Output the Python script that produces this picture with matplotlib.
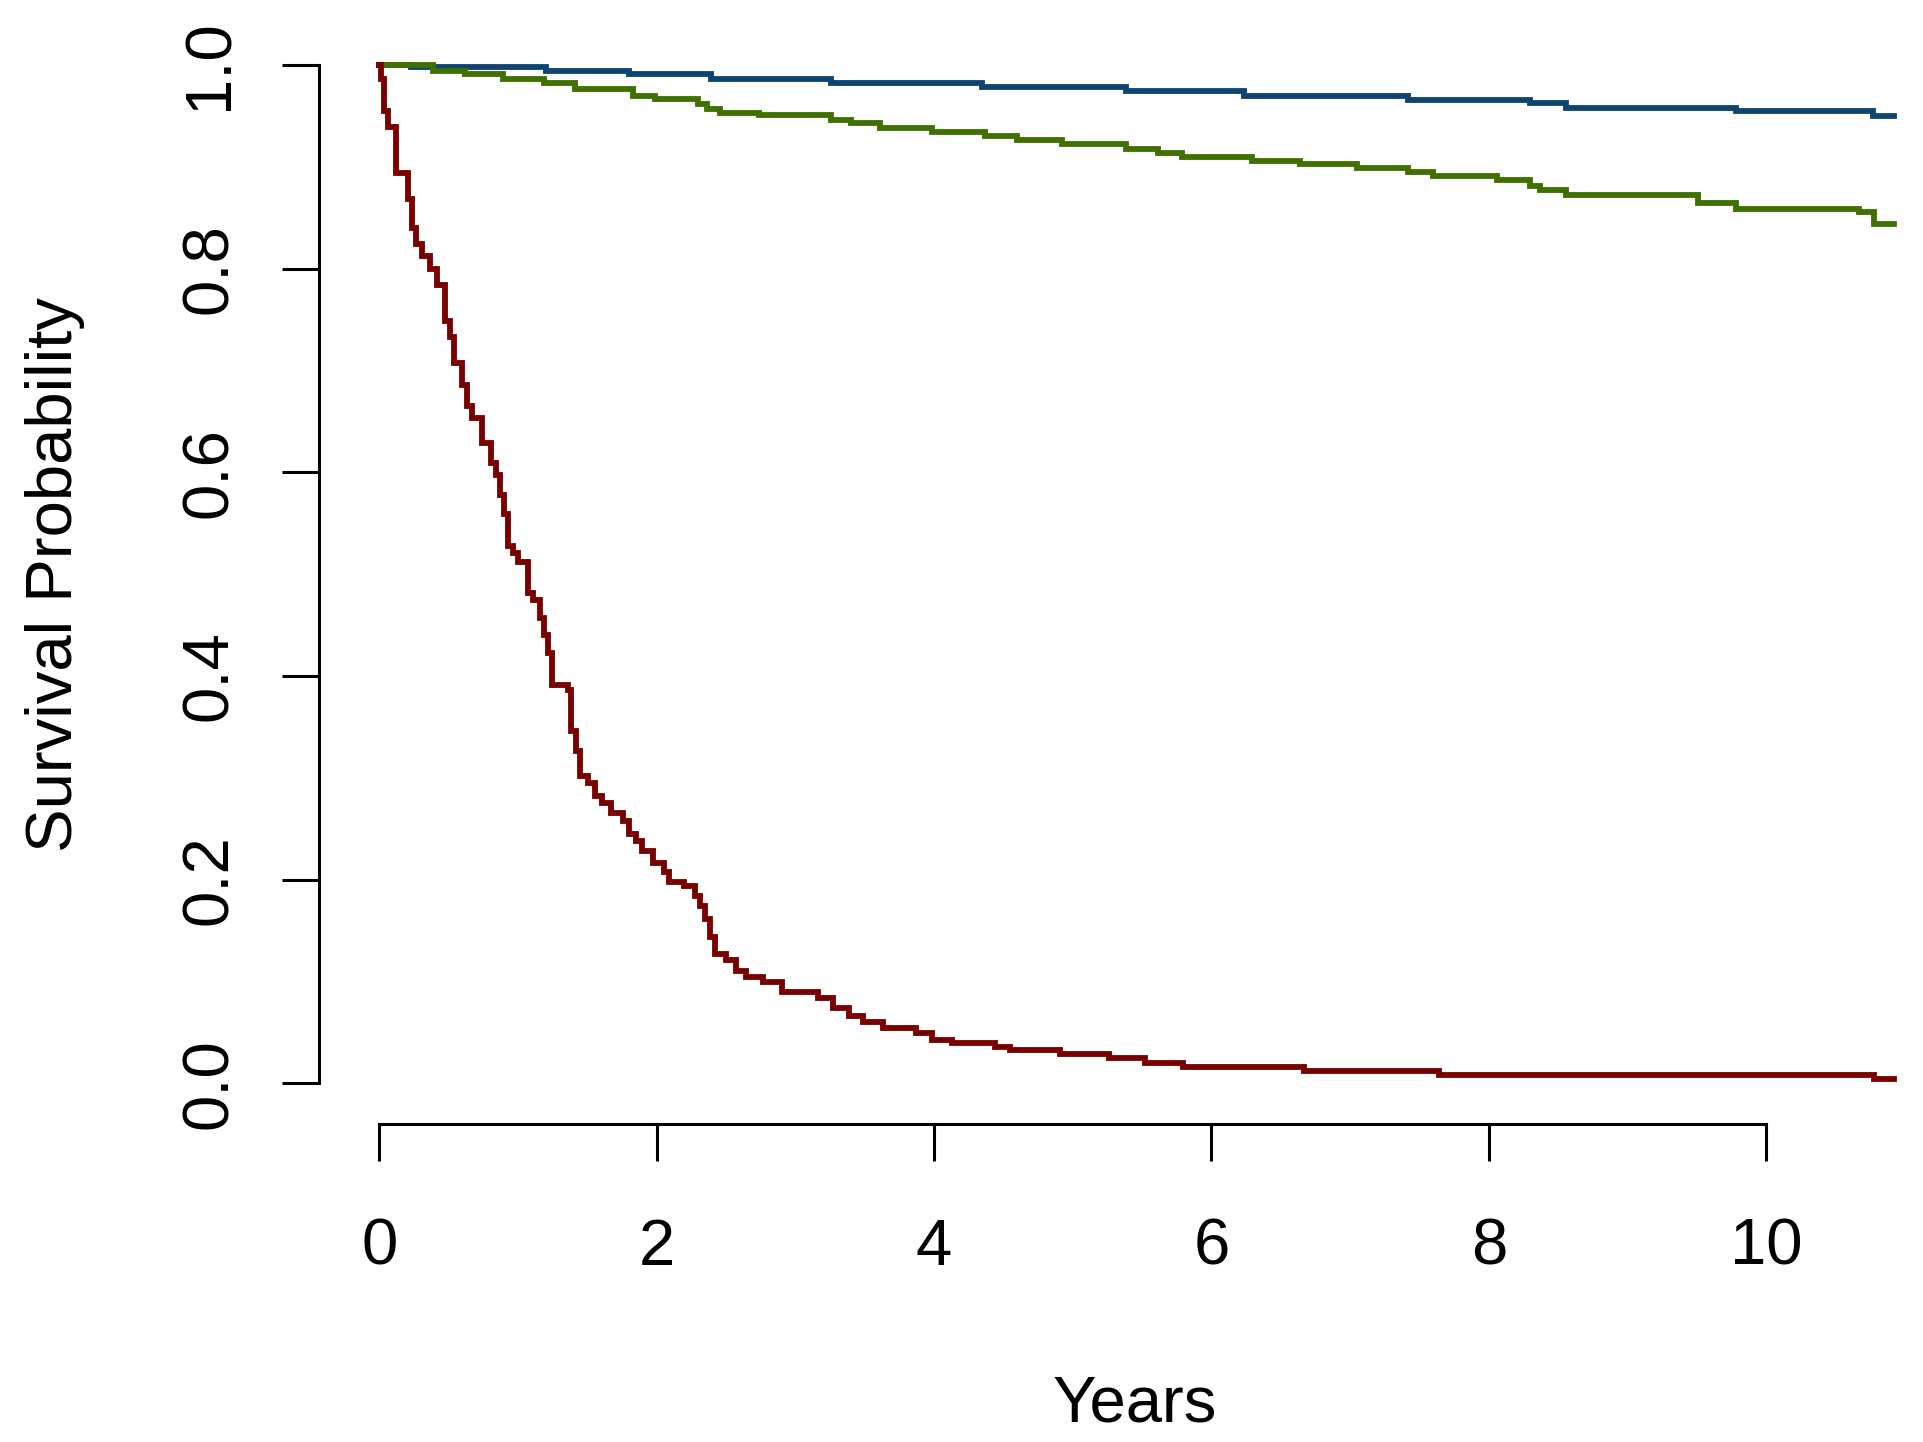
import numpy as np
import matplotlib.pyplot as plt

plt.rcParams['font.family'] = ['Liberation Sans', 'DejaVu Sans']

# survival curves (years, survival probability)
blue_t = [0, 0.23, 1.2, 1.80, 2.39, 3.256, 4.343, 5.381, 6.234, 7.417, 8.30, 8.556, 9.785, 10.77, 10.92]
blue_s = [1.0, 0.998, 0.994, 0.991, 0.986, 0.982, 0.9785, 0.9743, 0.970, 0.966, 0.963, 0.958, 0.955, 0.950, 0.950]

green_t = [0, 0.39, 0.62, 0.89, 1.19, 1.41, 1.83, 1.99, 2.30, 2.36, 2.46, 2.74, 3.256, 3.40, 3.614,
           3.984, 4.368, 4.60, 4.925, 5.381, 5.616, 5.79, 6.295, 6.64, 7.047, 7.417, 7.60, 8.06,
           8.30, 8.37, 8.556, 9.51, 9.785, 10.67, 10.78, 10.92]
green_s = [1.0, 0.9946, 0.991, 0.9864, 0.9823, 0.976, 0.970, 0.9666, 0.962, 0.957, 0.953, 0.951, 0.946,
           0.9427, 0.9385, 0.9342, 0.930, 0.9264, 0.922, 0.918, 0.914, 0.910, 0.906, 0.9027, 0.8985,
           0.8945, 0.891, 0.887, 0.881, 0.877, 0.872, 0.8646, 0.859, 0.856, 0.844, 0.844]

red_t = [0, 0.012, 0.037, 0.061, 0.122, 0.207, 0.239, 0.268, 0.305, 0.366, 0.415, 0.476, 0.507, 0.537,
         0.598, 0.634, 0.671, 0.744, 0.805, 0.841, 0.873, 0.902, 0.927, 0.963, 1.0, 1.073, 1.11, 1.161,
         1.186, 1.216, 1.248, 1.359, 1.384, 1.421, 1.446, 1.508, 1.557, 1.607, 1.668, 1.755, 1.804,
         1.854, 1.891, 1.977, 2.052, 2.089, 2.20, 2.275, 2.312, 2.349, 2.386, 2.418, 2.497, 2.571,
         2.646, 2.77, 2.905, 3.165, 3.27, 3.39, 3.49, 3.63, 3.87, 3.985, 4.13, 4.437, 4.55, 4.906,
         5.26, 5.52, 5.795, 6.668, 7.638, 10.78, 10.92]
red_s = [1.0, 0.986, 0.955, 0.939, 0.894, 0.868, 0.840, 0.824, 0.812, 0.800, 0.784, 0.749, 0.733, 0.707,
         0.686, 0.665, 0.653, 0.629, 0.609, 0.597, 0.578, 0.559, 0.528, 0.521, 0.512, 0.482, 0.475, 0.457,
         0.440, 0.423, 0.391, 0.386, 0.346, 0.326, 0.302, 0.295, 0.282, 0.275, 0.265, 0.258, 0.245,
         0.238, 0.228, 0.216, 0.208, 0.198, 0.194, 0.184, 0.174, 0.161, 0.144, 0.127, 0.121, 0.110,
         0.104, 0.100, 0.090, 0.084, 0.074, 0.066, 0.060, 0.054, 0.049, 0.043, 0.040, 0.036, 0.033,
         0.029, 0.025, 0.020, 0.016, 0.012, 0.008, 0.004, 0.004]

x_ticks = [0, 2, 4, 6, 8, 10]
y_ticks = [0.0, 0.2, 0.4, 0.6, 0.8, 1.0]

fig = plt.figure(figsize=(19.23, 14.42), dpi=100)
ax = fig.add_axes([0.1657, 0.22048, 0.85064, 0.76267])

lw = 4.2
ax.step(blue_t, blue_s, where='post', color='#0f4470', lw=lw, solid_joinstyle='miter')
ax.step(green_t, green_s, where='post', color='#3f7000', lw=lw, solid_joinstyle='miter')
ax.step(red_t, red_s, where='post', color='#780000', lw=lw, solid_joinstyle='miter')

ax.set_xlim(-0.437, 11.357)
ax.set_ylim(-0.04, 1.04)

# R style axes: lines only between first and last tick
for s in ['top', 'right']:
    ax.spines[s].set_visible(False)
ax.spines['left'].set_bounds(0, 1)
ax.spines['bottom'].set_bounds(0, 10)
ax.spines['left'].set_linewidth(2.2)
ax.spines['bottom'].set_linewidth(2.2)

ax.set_xticks(x_ticks)
ax.set_xticklabels([str(v) for v in x_ticks], fontsize=47)
ax.set_yticks(y_ticks)
ax.set_yticklabels(['%.1f' % v for v in y_ticks], fontsize=47, rotation=90, va='center')
ax.tick_params(axis='both', length=26.6, width=2.2, color='black')
ax.tick_params(axis='x', pad=41)
ax.tick_params(axis='y', pad=30)

ax.set_xlabel('Years', fontsize=47)
ax.set_ylabel('Survival Probability', fontsize=47)
ax.xaxis.set_label_coords(0.499, -0.228)
ax.yaxis.set_label_coords(-0.143, 0.5)

fig.savefig('out.png', dpi=100)
